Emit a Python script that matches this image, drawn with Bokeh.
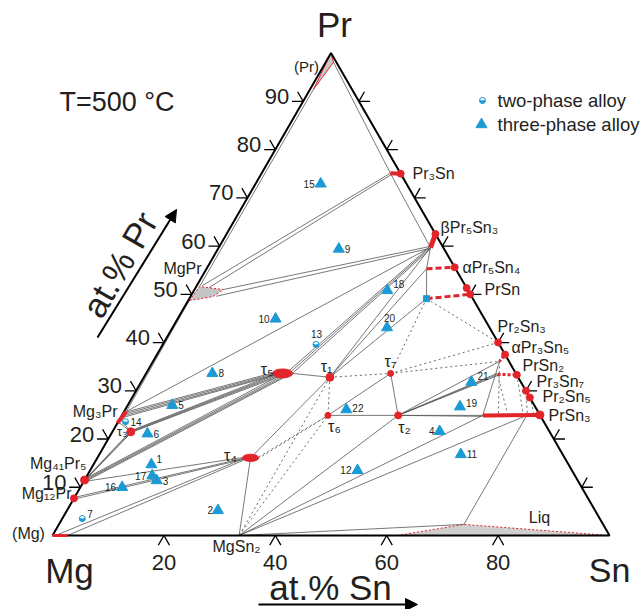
import numpy as np
from bokeh.plotting import figure
from bokeh.models import Range1d, Label, Arrow, NormalHead
from bokeh.embed import file_html
from bokeh.resources import INLINE
from bokeh.core.properties import value

# ---------------- data: compositions as (at.% Sn, at.% Pr) ----------------
pr_ticks = [10, 20, 30, 40, 50, 60, 70, 80, 90]
pr_tick_labels = ["10", "20", "30", "40", "50", "60", "70", "80", "90"]
sn_ticks = [20, 40, 60, 80]
sn_tick_labels = ["20", "40", "60", "80"]

MG12PR = (0.0, 7.7)
MG41PR5 = (0.0, 11.5)
MG3PR_SEG = [(0.0, 23.3), (0.4, 25.7)]
TAU3 = (3.3, 21.5)
TAU4 = (27.5, 16.1)
TAU5 = (24.5, 33.6)
TAU1 = (33.4, 32.8)
TAU6 = (37.0, 24.9)
TAU2 = (49.6, 24.9)
TAU7 = (43.9, 33.6)
MG2SN = (33.5, 0.0)
MG_SS = [(0.0, 0.0), (2.7, 0.0)]
PR3SN_SEG = [(23.1, 75.1), (25.0, 75.0)]
B_PR5SN3_SEG = [(38.0, 59.7), (37.5, 62.5)]
A_PR5SN4_SEG = [(39.5, 55.3), (44.4, 55.6)]
PRSN_SEG = [(42.6, 49.1), (50.0, 50.0)]
PRSN_X = (48.7, 51.3)
PR2SN3 = (60.0, 40.0)
A_PR3SN5_SEG = [(62.2, 36.1), (62.5, 37.5)]
PRSN2_SEG = [(63.2, 33.4), (66.7, 33.3)]
PR3SN7 = (70.0, 30.0)
PR2SN5 = (71.4, 28.6)
PRSN3_SEG = [(64.8, 24.9), (75.0, 25.0)]
PRSN3_M = (72.7, 24.9)
LIQ_SN = [61.9, 72.7, 100.0]
LIQ_PR = [0.0, 2.3, 0.0]
MGPR_SN = [0.2, 0.6, 5.2, 4.0]
MGPR_PR = [48.7, 51.6, 51.0, 49.5]
PRSS_SN = [0.0, 0.6, 1.4]
PRSS_PR = [100.0, 92.5, 98.1]

# tie lines (solid): start and end compositions
solid_a = [
    (0.6, 51.6), (1.4, 98.1), PR3SN_SEG[0], (1.0, 51.8), (2.4, 51.4),
    (5.2, 51.0), (4.6, 49.6), (0.2, 48.7), (0.4, 25.7),
    (0.4, 25.6), (0.3, 25.2), (0.3, 24.8), (0.2, 24.4),
    (0.2, 24.0), (0.1, 23.5),
    (3.2, 21.7), (3.3, 21.6), (3.4, 21.5), (3.5, 21.4),
    (0.1, 11.9), (0.1, 11.6), (0.1, 11.3),
    (0.1, 11.9), (0.1, 11.6), (0.1, 11.3), (0.1, 11.0),
    (0.1, 11.2), (0.0, 7.9), (0.0, 7.5), (0.5, 0.0), (2.7, 0.0),
    TAU4, (26.3, 33.6),
    (25.3, 34.0), (25.8, 33.9), (26.3, 33.7),
    TAU1, TAU1, TAU1, B_PR5SN3_SEG[0], A_PR5SN4_SEG[0],
    TAU7, TAU7, TAU6,
    TAU2, TAU2, TAU2, TAU2, TAU2, TAU2, A_PR3SN5_SEG[0],
    MG2SN, MG2SN, MG2SN, MG2SN, MG2SN, (72.7, 2.3),
]
solid_b = [
    (0.6, 92.5), PR3SN_SEG[0], B_PR5SN3_SEG[0], (23.1, 75.1), (23.4, 74.8),
    (38.1, 60.0), (37.9, 59.5), (0.4, 25.7), (37.8, 59.6),
    (22.9, 33.8), (23.1, 33.6), (23.3, 33.4), (23.5, 33.3),
    (3.2, 21.6), (3.3, 21.5),
    (23.0, 33.3), (23.4, 33.2), (23.8, 33.1), (24.2, 33.0),
    (3.1, 21.3), (3.3, 21.3), (3.5, 21.4),
    (24.0, 33.0), (24.5, 32.9), (25.0, 32.9), (25.5, 33.0),
    (26.3, 16.2), (26.3, 16.0), (26.4, 15.8), (26.3, 15.9), (26.5, 15.6),
    TAU1, TAU1,
    (37.8, 59.9), (38.0, 59.7), (38.2, 59.5),
    B_PR5SN3_SEG[0], A_PR5SN4_SEG[0], PRSN_SEG[0], A_PR5SN4_SEG[0], PRSN_SEG[0],
    TAU2, TAU6, TAU2,
    (63.0, 33.6), (63.2, 33.4), (63.4, 33.2), A_PR3SN5_SEG[0], PRSN3_SEG[0], (64.8, 24.7), PRSN3_SEG[0],
    TAU4, TAU2, PRSN3_SEG[0], PRSN3_M, (72.7, 2.3), PRSN3_M,
]
dotted_a = [TAU1, TAU1, TAU1, MG2SN, (28.9, 16.3), (28.9, 15.9),
            PRSN_SEG[0], PRSN_SEG[0], TAU7, TAU7,
            A_PR3SN5_SEG[0], PRSN2_SEG[0], PRSN2_SEG[1], PR3SN7, PR2SN5]
dotted_b = [TAU7, TAU6, MG2SN, TAU6, TAU6, (36.9, 24.7),
            TAU7, PR2SN3, PR2SN3, A_PR3SN5_SEG[0],
            (67.6, 24.9), (69.3, 24.9), (72.1, 24.9), (72.8, 24.9), (74.0, 25.0)]

red_dots = [MG12PR, MG41PR5, TAU3, TAU1, TAU7, TAU6, TAU2, PR3SN_SEG[1], B_PR5SN3_SEG[1],
            A_PR5SN4_SEG[1], PRSN_SEG[1], PRSN_X, PR2SN3, A_PR3SN5_SEG[1], PRSN2_SEG[1],
            PR3SN7, PR2SN5, PRSN3_SEG[1]]
red_dot_sizes = [7, 8, 8, 8, 6, 6, 7, 7, 7, 7, 7, 7, 7, 7, 7, 7, 7, 8]

# alloys
three_no = ["1", "2", "3", "4", "5", "6", "8", "9", "10", "11", "12", "15", "16", "17", "18", "19", "20", "21", "22"]
three_sn = [10.4, 27.1, 13.0, 58.7, 8.0, 6.5, 11.9, 21.7, 17.6, 64.9, 48.0, 11.7, 7.5, 11.7, 34.7, 59.8, 38.5, 59.3, 39.7]
three_pr = [14.7, 5.2, 11.4, 21.6, 27.0, 21.1, 33.6, 59.4, 44.9, 16.8, 13.5, 72.9, 10.0, 12.4, 50.8, 26.7, 43.1, 31.8, 26.1]
two_no = ["7", "13", "14"]
two_sn = [3.6, 27.5, 1.3]
two_pr = [3.5, 39.6, 23.6]
square_alloy = PRSN_SEG[0]

# ---------------- geometry ----------------
SQ = np.sqrt(3) / 2.0


def cx(c):
    return c[0] + c[1] / 2.0


def cy(c):
    return c[1] * SQ


S = 5.57
X0 = -9.34
Y1 = 96.05


def P(px, py):
    return X0 + px / S, Y1 - py / S


p = figure(width=644, height=609, x_range=Range1d(X0, X0 + 644 / S), y_range=Range1d(Y1 - 609 / S, Y1),
           output_backend="svg", toolbar_location=None, min_border=0,
           x_axis_type=None, y_axis_type=None)
p.grid.visible = False
p.outline_line_color = None
p.background_fill_color = "white"

FONT = "Liberation Sans"
INK = "#231f20"
RED = "#e3242b"
BLUE = "#1b9ad6"
GREY = "#555555"

# regions
p.patch([cx(c) for c in zip(LIQ_SN, LIQ_PR)], [cy(c) for c in zip(LIQ_SN, LIQ_PR)],
        fill_color="#cfcfcf", line_color=RED, line_dash="2 2", line_width=1)
p.patch([cx(c) for c in zip(MGPR_SN, MGPR_PR)], [cy(c) for c in zip(MGPR_SN, MGPR_PR)],
        fill_color="#c4c4c4", line_color=RED, line_dash="2 2", line_width=1)
p.patch([cx(c) for c in zip(PRSS_SN, PRSS_PR)], [cy(c) for c in zip(PRSS_SN, PRSS_PR)],
        fill_color="#c8c8c8", line_color=RED, line_width=1)

# tie lines
p.multi_line([[cx(a), cx(b)] for a, b in zip(solid_a, solid_b)],
             [[cy(a), cy(b)] for a, b in zip(solid_a, solid_b)], line_color=GREY, line_width=0.8)
p.multi_line([[cx(a), cx(b)] for a, b in zip(dotted_a, dotted_b)],
             [[cy(a), cy(b)] for a, b in zip(dotted_a, dotted_b)], line_color=GREY, line_width=0.9,
             line_dash="2 3")

# triangle frame
corners = [(0, 0), (100, 0), (0, 100), (0, 0)]
p.line([cx(c) for c in corners], [cy(c) for c in corners], line_color="black", line_width=2)

# ticks
L = 2.0
tx, ty = [], []
for v in pr_ticks:
    x, y = cx((0, v)), cy((0, v))
    tx.append([x - L, x, x - L / 2]); ty.append([y, y, y + L * SQ])
    x, y = cx((100 - v, v)), cy((100 - v, v))
    tx.append([x + L, x, x + L / 2]); ty.append([y, y, y + L * SQ])
for v in sn_ticks:
    x, y = cx((v, 0)), cy((v, 0))
    tx.append([x - L / 2, x, x + L / 2]); ty.append([-L * SQ, 0, -L * SQ])
p.multi_line(tx, ty, line_color="black", line_width=1.3)

# red phase fields
for seg, w, dash in [(MG3PR_SEG, 4, "solid"), (PR3SN_SEG, 4, "solid"), (B_PR5SN3_SEG, 5, "solid"),
                     (PRSN3_SEG, 4, "solid"), (MG_SS, 3, "solid"),
                     (A_PR5SN4_SEG, 3, "6 3"), (PRSN_SEG, 3, "6 3"),
                     (A_PR3SN5_SEG, 3, "2 2"), (PRSN2_SEG, 3, "3 2")]:
    p.line([cx(c) for c in seg], [cy(c) for c in seg], line_color=RED, line_width=w, line_dash=dash)

p.ellipse([cx(TAU5)], [cy(TAU5)], width=3.6, height=1.6, fill_color=RED, line_color=RED)
p.ellipse([cx(TAU4)], [cy(TAU4)], width=2.9, height=1.3, fill_color=RED, line_color=RED)
p.scatter([cx(c) for c in red_dots], [cy(c) for c in red_dots], size=red_dot_sizes,
          fill_color=RED, line_color=RED)

# alloys
t3 = [(a, b) for a, b in zip(three_sn, three_pr)]
p.scatter([cx(c) for c in t3], [cy(c) for c in t3], marker="triangle", size=11,
          fill_color=BLUE, line_color=BLUE)
t2 = [(a, b) for a, b in zip(two_sn, two_pr)]
p.scatter([cx(c) for c in t2], [cy(c) for c in t2], marker="circle", size=6,
          fill_color=BLUE, line_color=BLUE)
p.wedge([cx(c) for c in t2], [cy(c) for c in t2], radius=0.45, start_angle=0.2, end_angle=np.pi - 0.2,
        fill_color="white", line_color=None)
p.scatter([cx(square_alloy)], [cy(square_alloy)], marker="square", size=6, fill_color=BLUE, line_color=BLUE)

# alloy numbers
right_off = {"1": (5, -6), "3": (6, 0), "5": (6, 0), "6": (6, 0), "8": (6, 0), "9": (6, 0),
             "11": (6, 0), "18": (6, -6), "19": (6, -4), "21": (6, -6), "22": (6, -2),
             "7": (5, -5), "14": (5, 0), "20": (-3, -10), "13": (-5, -10)}
left_off = {"2": (-5, 0), "4": (-5, 0), "10": (-6, 0), "12": (-6, 0), "15": (-6, 0), "16": (-6, 0), "17": (-6, 0)}
allnum = list(zip(three_no, t3)) + list(zip(two_no, t2))
for lab, c in allnum:
    if lab in right_off:
        dx, dy = right_off[lab]; al = "left"
    else:
        dx, dy = left_off[lab]; al = "right"
    p.add_layout(Label(x=cx(c), y=cy(c), x_offset=dx, y_offset=-dy, text=lab, text_font=FONT,
                       text_font_size="10px", text_color=INK, text_align=al, text_baseline="middle"))


def lab(px, py, text, size, align="left", angle=0.0):
    x, y = P(px, py)
    p.add_layout(Label(x=x, y=y, text=text, text_font=FONT, text_font_size=size, text_color=INK,
                       text_align=align, text_baseline="middle", angle=angle))


# axis tick labels
for v, t in zip(pr_ticks, pr_tick_labels):
    x, y = cx((0, v)), cy((0, v))
    p.add_layout(Label(x=x, y=y, x_offset=-14, y_offset=5, text=t, text_font=FONT, text_font_size="22px",
                       text_color=INK, text_align="right", text_baseline="middle"))
for v, t in zip(sn_ticks, sn_tick_labels):
    x, y = cx((v, 0)), cy((v, 0))
    p.add_layout(Label(x=x, y=y, y_offset=-27, text=t, text_font=FONT, text_font_size="22px",
                       text_color=INK, text_align="center", text_baseline="middle"))

# corner labels and titles
lab(334, 24, "Pr", "35px", "center")
lab(69, 570, "Mg", "35px", "center")
lab(609, 569, "Sn", "34px", "center")
lab(59, 101, "T=500 \u00b0C", "27px")
lab(119, 264, "at.% Pr", "35px", "center", np.pi / 3)
lab(330, 587, "at.% Sn", "35px", "center")
ax0, ay0 = P(97, 337)
ax1, ay1 = P(176, 209)
p.add_layout(Arrow(end=NormalHead(size=12, fill_color="black", line_color="black"),
                   x_start=ax0, y_start=ay0, x_end=ax1, y_end=ay1, line_width=2, line_color="black"))
bx0, by0 = P(258, 604)
bx1, by1 = P(417, 604)
p.add_layout(Arrow(end=NormalHead(size=12, fill_color="black", line_color="black"),
                   x_start=bx0, y_start=by0, x_end=bx1, y_end=by1, line_width=2, line_color="black"))

# legend
lx, ly = P(482, 100)
p.scatter([lx], [ly], marker="circle", size=6, fill_color=BLUE, line_color=BLUE)
p.wedge([lx], [ly], radius=0.45, start_angle=0.2, end_angle=np.pi - 0.2, fill_color="white", line_color=None)
lx2, ly2 = P(481, 124)
p.scatter([lx2], [ly2], marker="triangle", size=11, fill_color=BLUE, line_color=BLUE)
lab(497, 100, "two-phase alloy", "18.5px")
lab(497, 124, "three-phase alloy", "18.5px")

# phase labels
lab(412, 173, "Pr\u2083Sn", "16px")
lab(440, 227, "\u03b2Pr\u2085Sn\u2083", "16px")
lab(462, 267, "\u03b1Pr\u2085Sn\u2084", "16px")
lab(484, 289, "PrSn", "16px")
lab(497, 326, "Pr\u2082Sn\u2083", "16px")
lab(511, 347, "\u03b1Pr\u2083Sn\u2085", "16px")
lab(522, 365, "PrSn\u2082", "16px")
lab(536, 381, "Pr\u2083Sn\u2087", "16px")
lab(542, 396, "Pr\u2082Sn\u2085", "16px")
lab(548, 415, "PrSn\u2083", "16px")
lab(539, 517, "Liq", "16px", "center")
lab(236, 546, "MgSn\u2082", "16px", "center")
lab(71, 493, "Mg\u2081\u2082Pr", "16px", "right")
lab(86, 463, "Mg\u2084\u2081Pr\u2085", "16px", "right")
lab(117, 411, "Mg\u2083Pr", "16px", "right")
lab(182, 268, "MgPr", "16px", "center")
lab(306, 66, "(Pr)", "15px", "center")
lab(28, 533, "(Mg)", "16px", "center")

# tau labels
lab(273, 369, "\u03c4\u2085", "16px", "right")
lab(326, 366, "\u03c4\u2081", "16px", "center")
lab(390, 361, "\u03c4\u2087", "16px", "center")
lab(334, 426, "\u03c4\u2086", "16px", "center")
lab(404, 427, "\u03c4\u2082", "16px", "center")
lab(230, 455, "\u03c4\u2084", "16px", "center")
lab(127, 431, "\u03c4\u2083", "13px", "right")

open("out.html", "w").write(file_html(p, INLINE))
